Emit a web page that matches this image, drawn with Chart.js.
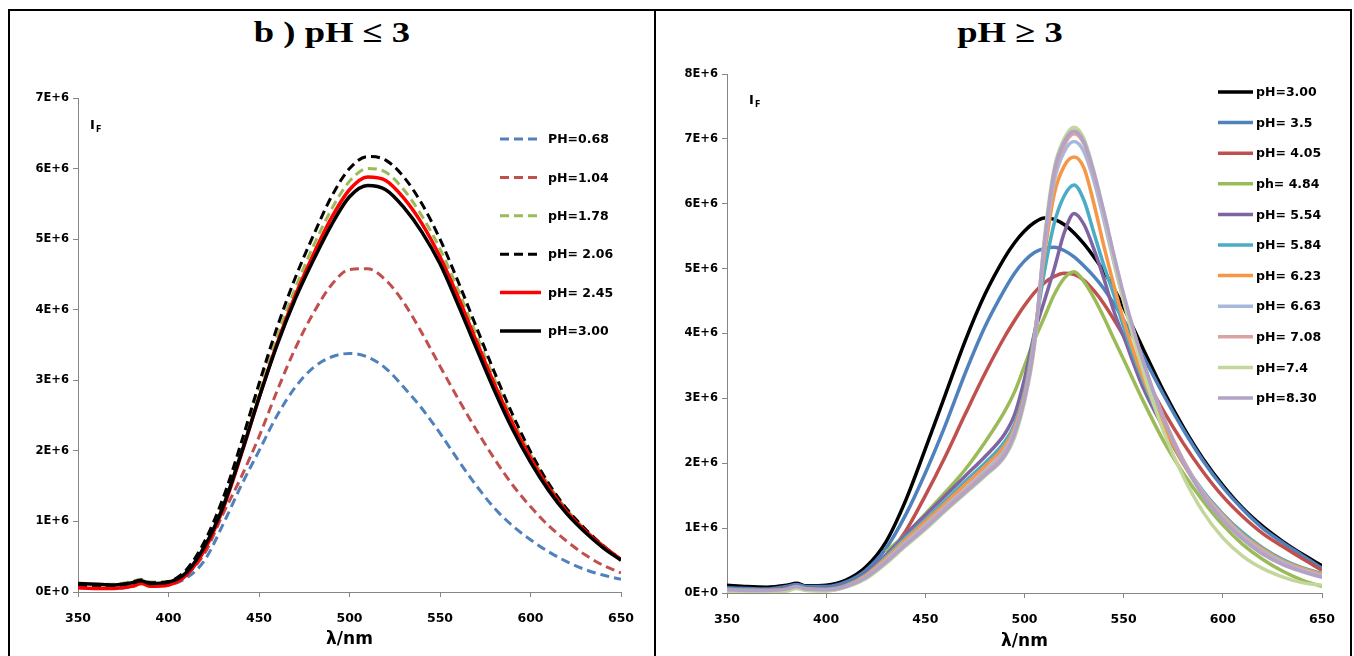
<!DOCTYPE html>
<html>
<head>
<meta charset="utf-8">
<script src="https://cdn.jsdelivr.net/npm/chart.js@4.4.0/dist/chart.umd.min.js"></script>
<style>
body{margin:0;background:#fff;width:1354px;height:656px;overflow:hidden;position:relative}
#frame{position:absolute;left:8px;top:9px;width:1340px;height:700px;border:2px solid #000}
#divider{position:absolute;left:654px;top:9px;width:2px;height:700px;background:#000}
.ttl{position:absolute;top:15px;height:34px;line-height:34px;font:bold 30px "Liberation Serif",serif;text-align:center;color:#000;transform:scaleX(1.22)}
canvas{position:absolute}
</style>
</head>
<body>
<div id="frame"></div>
<div id="divider"></div>
<div class="ttl" style="left:10px;width:644px">b ) pH ≤ 3</div>
<div class="ttl" style="left:663px;width:694px">pH ≥ 3</div>
<canvas id="acid" width="644" height="645" style="left:10px;top:11px"></canvas>
<canvas id="basic" width="694" height="645" style="left:657px;top:11px"></canvas>
<script>
// emission intensity, in units of 1E+6

// ---- pH <= 3 ----
const wlLeft = [350,360,370,380,385,390,400,410,420,430,440,450,460,470,480,490,500,510,520,530,540,550,560,570,580,590,600,610,620,630,640,650];
const leftLabels = ['PH=0.68','pH=1.04','pH=1.78','pH= 2.06','pH= 2.45','pH=3.00'];
const l068 = [0.06,0.05,0.05,0.08,0.12,0.09,0.10,0.20,0.45,0.95,1.50,2.00,2.50,2.90,3.18,3.33,3.38,3.33,3.17,2.90,2.60,2.25,1.87,1.51,1.19,0.94,0.74,0.57,0.43,0.32,0.24,0.18];
const l104 = [0.08,0.06,0.06,0.10,0.14,0.10,0.12,0.25,0.55,1.10,1.62,2.20,2.85,3.45,3.95,4.35,4.57,4.58,4.42,4.10,3.67,3.20,2.74,2.30,1.89,1.52,1.21,0.94,0.72,0.53,0.38,0.27];
const l178 = [0.12,0.11,0.11,0.15,0.18,0.14,0.15,0.30,0.68,1.25,2.00,2.85,3.62,4.30,4.90,5.42,5.82,6.00,5.95,5.70,5.33,4.86,4.28,3.65,3.02,2.45,1.95,1.52,1.17,0.89,0.66,0.47];
const l206 = [0.10,0.09,0.09,0.14,0.17,0.13,0.15,0.32,0.72,1.32,2.10,2.95,3.75,4.45,5.05,5.60,6.00,6.17,6.12,5.88,5.50,5.00,4.40,3.76,3.12,2.52,1.99,1.54,1.18,0.90,0.66,0.46];
const l245 = [0.06,0.05,0.05,0.08,0.12,0.08,0.10,0.24,0.60,1.17,1.93,2.75,3.52,4.20,4.78,5.30,5.70,5.88,5.83,5.58,5.22,4.75,4.18,3.56,2.95,2.39,1.90,1.48,1.14,0.87,0.65,0.46];
const l300 = [0.12,0.11,0.10,0.13,0.16,0.12,0.14,0.28,0.65,1.20,1.95,2.75,3.50,4.15,4.70,5.20,5.60,5.76,5.70,5.45,5.10,4.65,4.07,3.46,2.86,2.31,1.84,1.44,1.11,0.85,0.63,0.45];

// ---- pH >= 3 ----
const wlRight = [350,360,370,380,385,390,400,410,420,430,440,450,460,470,480,490,495,500,505,510,515,520,525,530,535,540,545,550,560,570,580,590,600,610,620,630,640,650];
const rightLabels = ['pH=3.00','pH= 3.5','pH= 4.05','ph= 4.84','pH= 5.54','pH= 5.84','pH= 6.23','pH= 6.63','pH= 7.08','pH=7.4','pH=8.30'];
const r300 = [0.12,0.10,0.09,0.12,0.15,0.11,0.12,0.20,0.40,0.78,1.42,2.22,3.05,3.88,4.60,5.17,5.40,5.58,5.71,5.78,5.76,5.68,5.55,5.38,5.18,4.96,4.70,4.40,3.75,3.12,2.56,2.07,1.66,1.31,1.03,0.80,0.60,0.42];
const r350 = [0.08,0.07,0.06,0.10,0.13,0.10,0.10,0.17,0.35,0.68,1.20,1.85,2.58,3.38,4.10,4.68,4.93,5.12,5.25,5.31,5.33,5.28,5.18,5.04,4.88,4.69,4.46,4.21,3.64,3.06,2.52,2.04,1.63,1.29,1.00,0.78,0.58,0.38];
const r405 = [0.05,0.04,0.04,0.07,0.10,0.07,0.07,0.13,0.28,0.55,0.95,1.50,2.10,2.75,3.38,3.95,4.20,4.43,4.63,4.78,4.88,4.93,4.91,4.82,4.66,4.46,4.22,3.96,3.37,2.81,2.31,1.87,1.49,1.18,0.92,0.72,0.53,0.35];
const r484 = [null,null,null,null,null,null,null,null,null,0.63,0.90,1.22,1.55,1.90,2.32,2.80,3.10,3.50,3.90,4.25,4.60,4.85,4.95,4.80,4.55,4.25,3.92,3.60,2.95,2.35,1.85,1.42,1.05,0.75,0.52,0.34,0.20,0.10];
const r554 = [0.06,0.05,0.04,0.06,0.10,0.07,0.06,0.12,0.30,0.58,0.90,1.20,1.50,1.80,2.10,2.45,2.75,3.30,4.00,4.50,5.00,5.55,5.85,5.68,5.30,4.85,4.35,3.95,3.15,2.55,2.00,1.55,1.20,0.90,0.68,0.50,0.37,0.28];
const r584 = [0.06,0.05,0.04,0.06,0.10,0.07,0.06,0.12,0.28,0.55,0.85,1.13,1.42,1.72,2.00,2.33,2.60,3.10,4.00,4.95,5.70,6.12,6.29,6.05,5.55,5.05,4.60,4.10,3.25,2.60,2.02,1.57,1.22,0.93,0.70,0.52,0.39,0.30];
const r623 = [0.05,0.04,0.04,0.05,0.09,0.06,0.05,0.11,0.27,0.53,0.82,1.10,1.38,1.67,1.95,2.27,2.55,3.05,3.95,5.20,6.15,6.58,6.72,6.55,6.00,5.35,4.75,4.20,3.30,2.60,2.00,1.55,1.20,0.90,0.68,0.50,0.38,0.29];
const r663 = [0.04,0.03,0.03,0.04,0.08,0.05,0.04,0.10,0.25,0.50,0.78,1.05,1.33,1.60,1.88,2.20,2.50,3.00,3.90,5.30,6.35,6.80,6.96,6.80,6.35,5.75,5.10,4.50,3.50,2.70,2.05,1.55,1.18,0.88,0.65,0.48,0.36,0.27];
const r708 = [0.04,0.03,0.03,0.04,0.08,0.05,0.04,0.10,0.24,0.48,0.75,1.02,1.30,1.57,1.84,2.15,2.45,2.98,3.85,5.38,6.45,6.90,7.08,6.92,6.45,5.85,5.20,4.58,3.55,2.72,2.05,1.53,1.15,0.85,0.62,0.45,0.34,0.25];
const r740 = [0.03,0.02,0.02,0.03,0.07,0.04,0.03,0.09,0.22,0.45,0.72,0.98,1.26,1.53,1.80,2.10,2.40,2.95,3.80,5.45,6.55,7.00,7.18,7.00,6.50,5.85,5.15,4.50,3.40,2.50,1.80,1.25,0.85,0.57,0.38,0.25,0.16,0.12];
const r830 = [0.05,0.04,0.04,0.06,0.10,0.06,0.05,0.10,0.24,0.47,0.74,1.00,1.28,1.55,1.82,2.12,2.45,2.98,3.85,5.40,6.50,6.95,7.12,6.95,6.48,5.88,5.22,4.60,3.55,2.70,2.02,1.50,1.12,0.83,0.60,0.44,0.33,0.24];

const leftSeries = [l068, l104, l178, l206, l245, l300];
const leftColors = ['#4F81BD','#C0504D','#9BBB59','#000000','#FF0000','#000000'];
const leftDashed = [true, true, true, true, false, false];

const rightSeries = [r300, r350, r405, r484, r554, r584, r623, r663, r708, r740, r830];
const rightColors = ['#000000','#4F81BD','#C0504D','#9BBB59','#8064A2','#4BACC6','#F79646','#A7B9DA','#D9A3A1','#C3D69B','#B3A2C7'];

const FONT = '"DejaVu Sans", sans-serif';

function pts(wl, vals) {
  return wl.map((x, i) => ({x: x, y: vals[i]}));
}

// legend drawn as a plain column of line samples inside the plot
const sideLegend = {
  id: 'sideLegend',
  afterDraw(chart, args, o) {
    const ctx = chart.ctx;
    ctx.save();
    chart.data.datasets.forEach((ds, i) => {
      const y = o.top + i * o.step;
      ctx.beginPath();
      ctx.setLineDash(ds.borderDash || []);
      ctx.strokeStyle = ds.borderColor;
      ctx.lineWidth = ds.borderWidth;
      ctx.moveTo(o.left, y);
      ctx.lineTo(o.left + o.len, y);
      ctx.stroke();
      ctx.setLineDash([]);
      ctx.fillStyle = '#000';
      ctx.font = 'bold 12.5px ' + FONT;
      ctx.textBaseline = 'middle';
      ctx.fillText(ds.label, o.left + o.len + o.gap, y + 1);
    });
    // I_F axis caption
    ctx.font = 'bold 13px ' + FONT;
    ctx.textBaseline = 'alphabetic';
    ctx.fillText('I', o.ifX, o.ifY);
    ctx.font = 'bold 8px ' + FONT;
    ctx.fillText('F', o.ifX + 6, o.ifY + 3);
    ctx.restore();
  }
};

function makeOptions(ymax, pad, yWidth, xHeight, legend, titleBottom) {
  return {
    responsive: false,
    animation: false,
    layout: { padding: pad },
    plugins: {
      legend: { display: false },
      tooltip: { enabled: false },
      sideLegend: legend
    },
    elements: { point: { radius: 0 } },
    scales: {
      x: {
        type: 'linear', min: 350, max: 650,
        afterFit(s) { s.height = xHeight; },
        ticks: { stepSize: 50, color: '#000', padding: 14, font: { family: FONT, weight: 'bold', size: 12.5 } },
        grid: { drawOnChartArea: false, tickLength: 5, color: '#868686' },
        border: { color: '#868686' },
        title: { display: true, text: 'λ/nm', color: '#000', padding: { top: 0, bottom: titleBottom }, font: { family: FONT, weight: 'bold', size: 17 } }
      },
      y: {
        min: 0, max: ymax,
        afterFit(s) { s.width = yWidth; },
        ticks: {
          stepSize: 1, color: '#000', padding: 4,
          font: { family: FONT, weight: 'bold', size: 11.5 },
          callback: v => v === 0 ? '0E+0' : v + 'E+6'
        },
        grid: { drawOnChartArea: false, tickLength: 5, color: '#868686' },
        border: { color: '#868686' }
      }
    }
  };
}

new Chart(document.getElementById('acid'), {
  type: 'line',
  data: {
    datasets: leftSeries.map((vals, i) => ({
      label: leftLabels[i],
      data: pts(wlLeft, vals),
      borderColor: leftColors[i],
      borderWidth: leftDashed[i] ? 3 : 3.5,
      borderDash: leftDashed[i] ? [9, 5] : [],
      cubicInterpolationMode: 'monotone',
      fill: false,
      order: -i
    }))
  },
  options: makeOptions(7, { left: 0, top: 87, right: 33, bottom: 0 }, 68, 64,
    { left: 490, top: 128, step: 38.4, len: 41, gap: 7, ifX: 80, ifY: 118 }, 6),
  plugins: [sideLegend]
});

new Chart(document.getElementById('basic'), {
  type: 'line',
  data: {
    datasets: rightSeries.map((vals, i) => ({
      label: rightLabels[i],
      data: pts(wlRight, vals),
      borderColor: rightColors[i],
      borderWidth: 3.5,
      cubicInterpolationMode: 'monotone',
      fill: false,
      order: -i
    }))
  },
  options: makeOptions(8, { left: 0, top: 63, right: 29, bottom: 0 }, 70, 63,
    { left: 561, top: 81, step: 30.6, len: 35, gap: 3, ifX: 92, ifY: 93 }, 4),
  plugins: [sideLegend]
});
</script>
</body>
</html>
